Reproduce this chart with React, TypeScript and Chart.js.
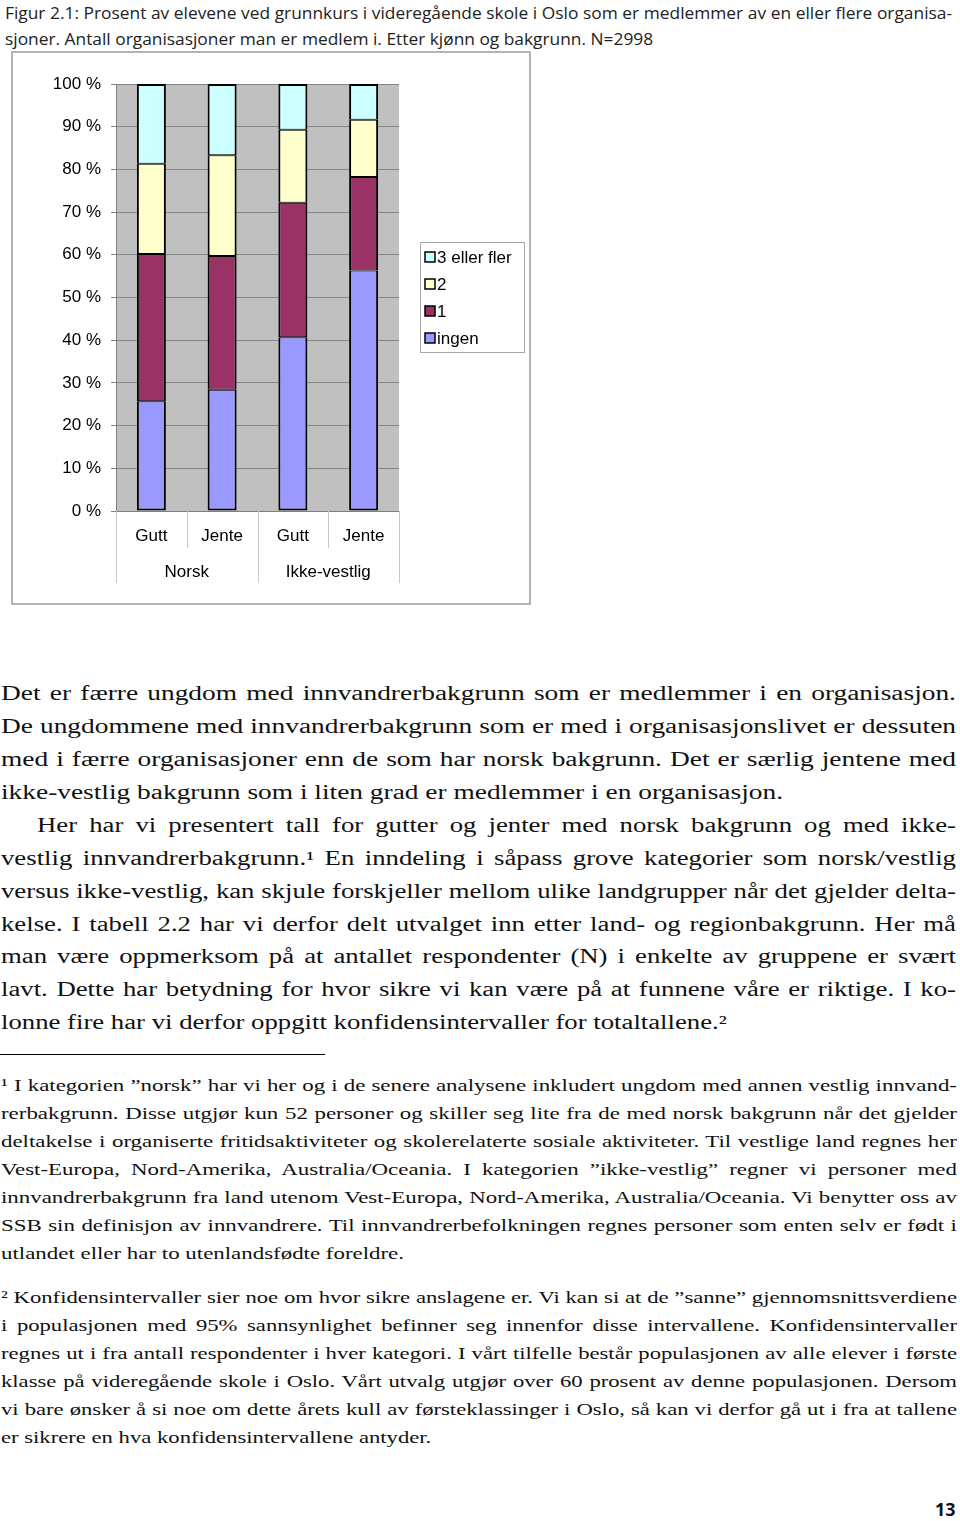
import React, { useEffect, useRef } from 'react';
import { Chart, registerables } from 'chart.js';

Chart.register(...registerables);

// ---------- chart data ----------
const categories = ['Gutt', 'Jente', 'Gutt', 'Jente'];
const groupLabels = ['Norsk', 'Ikke-vestlig'];
const seriesLabels = ['ingen', '1', '2', '3 eller fler'];
const ingenValues = [25.7, 28.4, 40.7, 56.3];
const enValues = [34.5, 31.3, 31.5, 21.9];
const toValues = [21.1, 23.6, 17.1, 13.4];
const treValues = [18.7, 16.7, 10.7, 8.4];
const seriesColors = ['#9999ff', '#993366', '#ffffcc', '#ccffff'];
const yTickValues = [0, 10, 20, 30, 40, 50, 60, 70, 80, 90, 100];

// ---------- page text ----------
const titleLines = [
  'Figur 2.1: Prosent av elevene ved grunnkurs i videregående skole i Oslo som er medlemmer av en eller flere organisa-',
  'sjoner. Antall organisasjoner man er medlem i. Etter kjønn og bakgrunn. N=2998',
];
const para1Lines = [
  'Det er færre ungdom med innvandrerbakgrunn som er medlemmer i en organisasjon.',
  'De ungdommene med innvandrerbakgrunn som er med i organisasjonslivet er dessuten',
  'med i færre organisasjoner enn de som har norsk bakgrunn. Det er særlig jentene med',
  'ikke-vestlig bakgrunn som i liten grad er medlemmer i en organisasjon.',
];
const para2Lines = [
  'Her har vi presentert tall for gutter og jenter med norsk bakgrunn og med ikke-',
  'vestlig innvandrerbakgrunn.¹ En inndeling i såpass grove kategorier som norsk/vestlig',
  'versus ikke-vestlig, kan skjule forskjeller mellom ulike landgrupper når det gjelder delta-',
  'kelse. I tabell 2.2 har vi derfor delt utvalget inn etter land- og regionbakgrunn. Her må',
  'man være oppmerksom på at antallet respondenter (N) i enkelte av gruppene er svært',
  'lavt. Dette har betydning for hvor sikre vi kan være på at funnene våre er riktige. I ko-',
  'lonne fire har vi derfor oppgitt konfidensintervaller for totaltallene.²',
];
const note1Lines = [
  '¹ I kategorien ”norsk” har vi her og i de senere analysene inkludert ungdom med annen vestlig innvand-',
  'rerbakgrunn. Disse utgjør kun 52 personer og skiller seg lite fra de med norsk bakgrunn når det gjelder',
  'deltakelse i organiserte fritidsaktiviteter og skolerelaterte sosiale aktiviteter. Til vestlige land regnes her',
  'Vest-Europa, Nord-Amerika, Australia/Oceania. I kategorien ”ikke-vestlig” regner vi personer med',
  'innvandrerbakgrunn fra land utenom Vest-Europa, Nord-Amerika, Australia/Oceania. Vi benytter oss av',
  'SSB sin definisjon av innvandrere. Til innvandrerbefolkningen regnes personer som enten selv er født i',
  'utlandet eller har to utenlandsfødte foreldre.',
];
const note2Lines = [
  '² Konfidensintervaller sier noe om hvor sikre anslagene er. Vi kan si at de ”sanne” gjennomsnittsverdiene',
  'i populasjonen med 95% sannsynlighet befinner seg innenfor disse intervallene. Konfidensintervaller',
  'regnes ut i fra antall respondenter i hver kategori. I vårt tilfelle består populasjonen av alle elever i første',
  'klasse på videregående skole i Oslo. Vårt utvalg utgjør over 60 prosent av denne populasjonen. Dersom',
  'vi bare ønsker å si noe om dette årets kull av førsteklassinger i Oslo, så kan vi derfor gå ut i fra at tallene',
  'er sikrere en hva konfidensintervallene antyder.',
];
const pageNumber = '13';

// ---------- text helpers ----------
let measureCtx: CanvasRenderingContext2D | null = null;
function measure(text: string, font: string): number {
  if (!measureCtx) measureCtx = document.createElement('canvas').getContext('2d');
  measureCtx!.font = font;
  return measureCtx!.measureText(text).width;
}

type BlockProps = {
  lines: string[];
  left: number;
  right: number;
  firstIndent?: number;
  baseline: number;
  gap: number;
  size: number;
  family: string;
  baseK: number;
  color?: string;
  weight?: number;
};

function TextBlock(p: BlockProps) {
  const weight = p.weight ?? 400;
  const font = `${weight} ${p.size}px ${p.family}`;
  const xs = p.lines.map((_, i) => p.left + (i === 0 ? p.firstIndent ?? 0 : 0));
  const widths = p.lines.map((l) => measure(l, font));
  const fullCount = p.lines.length - 1;
  let s = Infinity;
  for (let i = 0; i < fullCount; i++) s = Math.min(s, (p.right - xs[i]) / widths[i]);
  if (!isFinite(s)) s = 1;
  s *= 0.998;
  return (
    <>
      {p.lines.map((l, i) => {
        const full = i < fullCount;
        return (
          <div
            key={i}
            style={{
              position: 'absolute',
              left: xs[i],
              top: p.baseline + i * p.gap - p.baseK * p.size,
              width: full ? (p.right - xs[i]) / s : undefined,
              whiteSpace: full ? 'normal' : 'nowrap',
              textAlign: 'justify',
              textAlignLast: full ? 'justify' : 'left',
              transform: `scaleX(${s})`,
              transformOrigin: '0 0',
              fontFamily: p.family,
              fontSize: p.size,
              fontWeight: weight,
              lineHeight: `${p.size}px`,
              color: p.color ?? '#111',
            }}
          >
            {l}
          </div>
        );
      })}
    </>
  );
}

// ---------- chart ----------
const CHART_FONT = '"Liberation Sans", Arial, sans-serif';
const CHART_FONT_SIZE = 17;

const decorPlugin = {
  id: 'decor',
  beforeDraw(chart: any) {
    const { ctx, chartArea: a } = chart;
    ctx.save();
    ctx.fillStyle = '#c0c0c0';
    ctx.fillRect(a.left, a.top, a.right - a.left, a.bottom - a.top);
    ctx.restore();
  },
  afterDraw(chart: any) {
    const { ctx, chartArea: a } = chart;
    const xs = chart.scales.x;
    const n = categories.length;
    const w = (a.right - a.left) / n;
    ctx.save();
    // category separators
    ctx.strokeStyle = '#c8c8c8';
    ctx.lineWidth = 1;
    for (let i = 0; i <= n; i++) {
      const px = Math.round(a.left + i * w) + 0.5;
      const len = i % 2 === 0 ? 72 : 37;
      ctx.beginPath();
      ctx.moveTo(px, a.bottom);
      ctx.lineTo(px, a.bottom + len);
      ctx.stroke();
    }
    // group labels
    ctx.fillStyle = '#000';
    ctx.font = `${CHART_FONT_SIZE}px ${CHART_FONT}`;
    ctx.textAlign = 'center';
    ctx.textBaseline = 'middle';
    groupLabels.forEach((g, gi) => {
      const c = (xs.getPixelForValue(gi * 2) + xs.getPixelForValue(gi * 2 + 1)) / 2;
      ctx.fillText(g, c, a.bottom + 61);
    });
    // legend
    const lx = 409, ly = 191, lw = 104, lh = 110;
    ctx.strokeStyle = '#a8a8a8';
    ctx.lineWidth = 1;
    ctx.strokeRect(lx + 0.5, ly + 0.5, lw, lh);
    const ds = chart.data.datasets.slice().reverse();
    ds.forEach((d: any, i: number) => {
      const cy = 206 + i * 27;
      ctx.fillStyle = d.backgroundColor;
      ctx.fillRect(414, cy - 5, 10, 10);
      ctx.strokeStyle = '#000';
      ctx.lineWidth = 1.5;
      ctx.strokeRect(414, cy - 5, 10, 10);
      ctx.fillStyle = '#000';
      ctx.textAlign = 'left';
      ctx.fillText(d.label, 426, cy + 1);
    });
    ctx.restore();
  },
};

function ChartBox() {
  const ref = useRef<HTMLCanvasElement>(null);
  useEffect(() => {
    if (!ref.current) return;
    const values = [ingenValues, enValues, toValues, treValues];
    const last = values.length - 1;
    const chart = new Chart(ref.current, {
      type: 'bar',
      data: {
        labels: categories,
        datasets: values.map((v, i) => ({
          label: seriesLabels[i],
          data: v,
          backgroundColor: seriesColors[i],
          borderColor: '#000',
          borderWidth: { left: 2, right: 2, top: i === last ? 2 : 1, bottom: i === 0 ? 2 : 1 },
          borderSkipped: false,
          barPercentage: 0.41,
          categoryPercentage: 1,
        })),
      },
      options: {
        animation: false,
        responsive: false,
        maintainAspectRatio: false,
        devicePixelRatio: 1,
        layout: { padding: { left: 0, right: 132, top: 33, bottom: 0 } },
        plugins: { legend: { display: false }, tooltip: { enabled: false } },
        scales: {
          x: {
            stacked: true,
            grid: { display: false, drawTicks: false },
            border: { display: true, color: '#808080', width: 1 },
            ticks: { font: { family: CHART_FONT, size: CHART_FONT_SIZE }, color: '#000', padding: 15 },
            afterFit: (s: any) => {
              s.height = 94;
            },
          },
          y: {
            stacked: true,
            min: 0,
            max: 100,
            afterBuildTicks: (s: any) => {
              s.ticks = yTickValues.map((v) => ({ value: v }));
            },
            ticks: {
              font: { family: CHART_FONT, size: CHART_FONT_SIZE },
              color: '#000',
              padding: 10,
              callback: (v: any) => `${v} %`,
            },
            grid: { color: '#858585', lineWidth: 1, drawTicks: true, tickLength: 5, tickColor: '#808080' },
            border: { display: true, color: '#808080', width: 1 },
            afterFit: (s: any) => {
              s.width = 105;
            },
          },
        },
      },
      plugins: [decorPlugin],
    });
    return () => chart.destroy();
  }, []);
  return (
    <>
      <div
        style={{
          position: 'absolute',
          left: 11,
          top: 51,
          width: 520,
          height: 554,
          boxSizing: 'border-box',
          border: '2px solid #b4b4b4',
        }}
      />
      <canvas ref={ref} width={520} height={554} style={{ position: 'absolute', left: 11, top: 51, width: 520, height: 554 }} />
    </>
  );
}

export default function App() {
  const serif = '"Liberation Serif", "Times New Roman", serif';
  const sans = '"Open Sans", "Noto Sans", sans-serif';
  return (
    <div style={{ position: 'absolute', left: 0, top: 0, width: 960, height: 1521, background: '#fff', overflow: 'hidden' }}>
      <TextBlock lines={titleLines} left={5} right={952} baseline={19} gap={26} size={17} family={sans} baseK={0.888} color="#222" />
      <ChartBox />
      <TextBlock lines={para1Lines} left={1} right={956} baseline={700} gap={32.9} size={20} family={serif} baseK={0.8375} />
      <TextBlock lines={para2Lines} left={1} right={956} firstIndent={36} baseline={831.6} gap={32.9} size={20} family={serif} baseK={0.8375} />
      <div style={{ position: 'absolute', left: 0, top: 1054, width: 325, height: 1, background: '#000' }} />
      <TextBlock lines={note1Lines} left={1} right={957} baseline={1091} gap={28} size={17} family={serif} baseK={0.8375} />
      <TextBlock lines={note2Lines} left={1} right={957} baseline={1303} gap={28} size={17} family={serif} baseK={0.8375} />
      <div
        style={{
          position: 'absolute',
          left: 935,
          top: 1516 - 0.888 * 18,
          fontFamily: sans,
          fontWeight: 700,
          fontSize: 18,
          lineHeight: '18px',
          color: '#111',
        }}
      >
        {pageNumber}
      </div>
    </div>
  );
}
